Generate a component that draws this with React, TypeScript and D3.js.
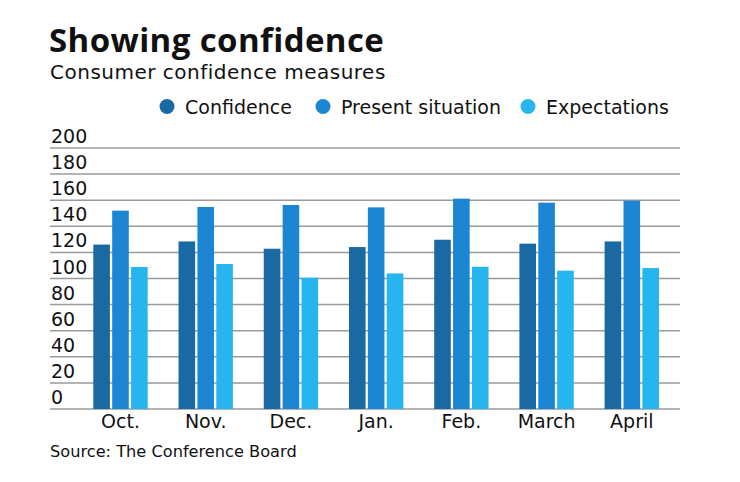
import { useEffect, useRef } from 'react';
import * as d3 from 'd3';

const months = ['Oct.', 'Nov.', 'Dec.', 'Jan.', 'Feb.', 'March', 'April'];
const seriesNames = ['Confidence', 'Present situation', 'Expectations'];
const seriesColors = ['#1b69a3', '#1c86d3', '#27b5ef'];
const confidence = [126.0, 128.4, 122.8, 124.1, 129.7, 126.7, 128.4];
const presentSituation = [152.0, 154.8, 156.3, 154.5, 161.2, 158.1, 159.6];
const expectations = [108.8, 111.1, 100.6, 103.9, 109.0, 106.0, 108.0];
const yTicks = [0, 20, 40, 60, 80, 100, 120, 140, 160, 180, 200];

const W = 740;
const H = 482;
const FONT = '"DejaVu Sans", "Open Sans", sans-serif';
const TITLE_FONT = '"Open Sans", Lato, sans-serif';

export default function App() {
  const ref = useRef<SVGSVGElement | null>(null);

  useEffect(() => {
    const svg = d3.select(ref.current);
    svg.selectAll('*').remove();

    const values = [confidence, presentSituation, expectations];

    // titles
    svg.append('text')
      .attr('x', 49).attr('y', 52)
      .attr('font-family', TITLE_FONT).attr('font-weight', 700).attr('font-size', 33)
      .attr('letter-spacing', 0.4)
      .attr('fill', '#111')
      .text('Showing confidence');

    svg.append('text')
      .attr('x', 50).attr('y', 79)
      .attr('font-family', FONT).attr('font-size', 20)
      .attr('letter-spacing', 0.5)
      .attr('fill', '#111')
      .text('Consumer confidence measures');

    // legend
    const legendX = [167, 323, 528];
    const legend = svg.append('g')
      .selectAll('g')
      .data(seriesNames)
      .enter().append('g')
      .attr('transform', (d, i) => `translate(${legendX[i]},106.5)`);
    legend.append('circle')
      .attr('r', 7.5)
      .attr('fill', (d, i) => seriesColors[i]);
    legend.append('text')
      .attr('x', 18).attr('y', 7)
      .attr('font-family', FONT).attr('font-size', 19)
      .attr('fill', '#111')
      .text(d => d);

    // scales
    const y = d3.scaleLinear().domain([0, 200]).range([409, 148]);
    const x = d3.scaleBand<string>()
      .domain(months)
      .range([70.3, 682])
      .paddingInner(0.362)
      .paddingOuter(0.27);
    const xSub = d3.scaleBand<string>()
      .domain(seriesNames)
      .range([0, x.bandwidth()])
      .paddingInner(0.12);

    // grid lines and labels
    const grid = svg.append('g');
    grid.selectAll('line')
      .data(yTicks)
      .enter().append('line')
      .attr('x1', 50).attr('x2', 680)
      .attr('y1', d => y(d)).attr('y2', d => y(d))
      .attr('stroke', '#9a9a9a')
      .attr('stroke-width', 1.5);
    grid.selectAll('text')
      .data(yTicks)
      .enter().append('text')
      .attr('x', 51)
      .attr('y', d => y(d) - 5)
      .attr('font-family', FONT).attr('font-size', 19)
      .attr('fill', '#111')
      .text(d => d);

    // bars
    const groups = svg.append('g')
      .selectAll('g')
      .data(months)
      .enter().append('g')
      .attr('transform', d => `translate(${x(d)},0)`);
    groups.selectAll('rect')
      .data((d, mi) => seriesNames.map((s, si) => ({ s, v: values[si][mi], c: seriesColors[si] })))
      .enter().append('rect')
      .attr('x', d => xSub(d.s) as number)
      .attr('width', xSub.bandwidth())
      .attr('y', d => y(d.v))
      .attr('height', d => y(0) - y(d.v))
      .attr('fill', d => d.c);

    // x labels
    svg.append('g')
      .selectAll('text')
      .data(months)
      .enter().append('text')
      .attr('x', d => (x(d) as number) + x.bandwidth() / 2)
      .attr('y', 428)
      .attr('text-anchor', 'middle')
      .attr('font-family', FONT).attr('font-size', 19)
      .attr('fill', '#111')
      .text(d => d);

    svg.append('text')
      .attr('x', 50).attr('y', 457)
      .attr('font-family', FONT).attr('font-size', 16.2)
      .attr('fill', '#111')
      .text('Source: The Conference Board');
  }, []);

  return (
    <div style={{ position: 'absolute', left: 0, top: 0 }}>
      <svg ref={ref} width={W} height={H} style={{ display: 'block', background: '#fff' }} />
    </div>
  );
}
